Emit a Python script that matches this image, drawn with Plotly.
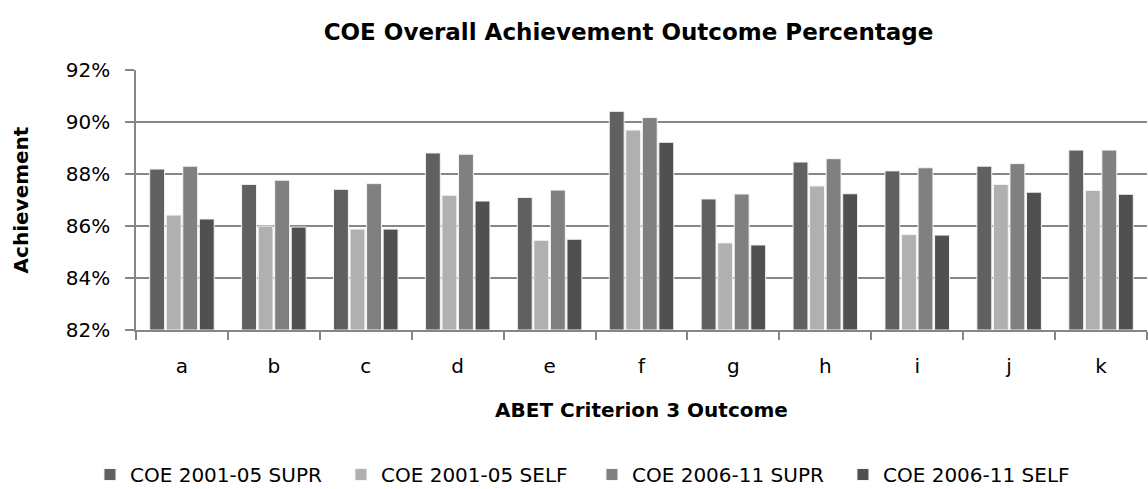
import plotly.graph_objects as go

categories = ["a", "b", "c", "d", "e", "f", "g", "h", "i", "j", "k"]
supr_0105 = [88.19, 87.60, 87.41, 88.81, 87.10, 90.41, 87.04, 88.46, 88.12, 88.30, 88.92]
self_0105 = [86.42, 86.00, 85.88, 87.18, 85.45, 89.69, 85.35, 87.54, 85.67, 87.60, 87.37]
supr_0611 = [88.30, 87.76, 87.63, 88.76, 87.38, 90.17, 87.23, 88.59, 88.24, 88.40, 88.92]
self_0611 = [86.27, 85.96, 85.88, 86.96, 85.49, 89.22, 85.27, 87.24, 85.65, 87.30, 87.22]
series_names = ["COE 2001-05 SUPR", "COE 2001-05 SELF", "COE 2006-11 SUPR", "COE 2006-11 SELF"]
series_values = [supr_0105, self_0105, supr_0611, self_0611]
colors = ["#606060", "#b0b0b0", "#808080", "#505050"]
y_ticks = [82, 84, 86, 88, 90, 92]

FONT = "DejaVu Sans"

fig = go.Figure()
for name, vals, col in zip(series_names, series_values, colors):
    fig.add_trace(go.Bar(
        x=categories, y=[v - 82 for v in vals], base=82, name=name,
        marker=dict(color=col, line=dict(color="#f4f4f4", width=1)),
        hovertemplate="%{x}: %{y:.2f}%<extra></extra>",
    ))

fig.update_layout(
    width=1148, height=489,
    paper_bgcolor="white", plot_bgcolor="white",
    margin=dict(l=136, r=1, t=70, b=159, autoexpand=False),
    barmode="group", bargap=0.28, bargroupgap=0.1,
    font=dict(family=FONT, size=20, color="#000000"),
    title=dict(text="<b>COE Overall Achievement Outcome Percentage</b>",
               x=0.5475, xanchor="center", y=1 - 32 / 489, yanchor="middle",
               font=dict(family=FONT, size=23, color="#000000")),
    legend=dict(orientation="h", x=0.451, xanchor="center", xref="paper",
                y=1 - 455 / 489, yanchor="top", yref="container",
                font=dict(family=FONT, size=20),
                entrywidth=206, entrywidthmode="pixels",
                traceorder="normal"),
    showlegend=True,
)
fig.update_xaxes(
    showline=True, linecolor="#868686", linewidth=1.5,
    ticks="outside", tickson="boundaries", ticklen=8, tickcolor="#868686", tickwidth=1.5,
    showgrid=False, ticklabelstandoff=17,
    title=dict(text="<b>ABET Criterion 3 Outcome</b>", font=dict(family=FONT, size=20), standoff=26),
    tickfont=dict(family=FONT, size=20),
)
fig.update_yaxes(
    range=[82, 92], tickvals=y_ticks, ticktext=[f"{v}%" for v in y_ticks],
    showline=True, linecolor="#868686", linewidth=1.5,
    ticks="outside", ticklen=9, tickcolor="#868686", tickwidth=1.5,
    showgrid=True, gridcolor="#868686", gridwidth=1.5, ticklabelstandoff=11,
    title=dict(text="<b>Achievement</b>", font=dict(family=FONT, size=20), standoff=32),
    tickfont=dict(family=FONT, size=20),
)

fig.write_html("out.html", config={"displayModeBar": False},
               post_script="document.body.style.margin='0';")
